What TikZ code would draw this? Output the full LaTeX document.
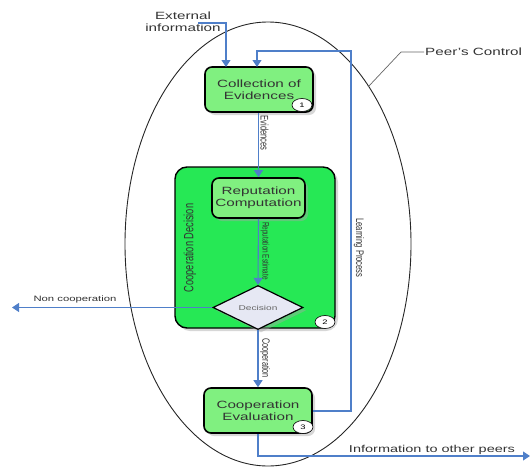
\documentclass[tikz,border=0pt]{standalone}
\usepackage{fontspec}
\setmainfont[FakeStretch=1.45]{Liberation Sans}
\newfontfamily\vertfont[FakeStretch=0.69]{Liberation Sans}
\usetikzlibrary{arrows.meta,shapes.geometric,shadows}
\definecolor{flow}{HTML}{4F7FC9}
\definecolor{lightgreen}{HTML}{80F080}
\definecolor{deepgreen}{HTML}{26E855}
\definecolor{lavender}{HTML}{E6E8F4}
\definecolor{ink}{HTML}{333333}
\tikzset{
  boxshadow/.style={drop shadow={shadow xshift=3pt,shadow yshift=-3pt,fill=black!35,opacity=0.45}},
  procbox/.style={draw=black, line width=1.6pt, rounded corners=7pt, fill=lightgreen,
    minimum width=108pt, minimum height=45pt, align=center, text=ink,
    font=\fontsize{10.5}{12}\selectfont, boxshadow},
  groupbox/.style={draw=black, line width=1.4pt, rounded corners=12pt, fill=deepgreen,
    minimum width=160pt, minimum height=161pt, boxshadow},
  decide/.style={diamond, draw=black, line width=1.2pt, fill=lavender, inner sep=0pt,
    minimum width=90pt, minimum height=35pt, text=black!60,
    font=\fontsize{7}{8}\selectfont, boxshadow},
  badge/.style={ellipse, draw=black, line width=0.6pt, fill=white, inner sep=0pt,
    minimum width=20pt, minimum height=13pt, font=\fontsize{6.5}{7}\selectfont},
  flowline/.style={draw=flow, line width=1.1pt},
  flowarrow/.style={flowline, -{Triangle[width=9pt,length=7pt]}},
  sidelabel/.style={text=ink, inner sep=1pt},
  vlabel/.style={text=ink, rotate=-90, inner sep=0pt},
}
\begin{document}
\begin{tikzpicture}[x=1pt,y=-1pt]
\useasboundingbox (0,0) rectangle (530,466);

% peer boundary
\node[ellipse, draw=black!85, line width=0.9pt, minimum width=286pt, minimum height=444pt, inner sep=0pt] (peer) at (268,244) {};
\node[sidelabel, anchor=west, font=\fontsize{10.5}{12}\selectfont] (peerlbl) at (424,52) {Peer's Control};
\draw[black!60, line width=0.7pt] (peerlbl.west) -- ++(-23,0) -- (368,87);

% processing stages
\node[groupbox] (decgroup) at (255,247.5) {};
\node[text=ink, rotate=90, font=\vertfont\fontsize{13.4}{14}\selectfont] (declbl) at (190,248) {Cooperation Decision};
\node[procbox] (collect) at (259,89.5) {Collection of\\Evidences};
\node[procbox, minimum width=93pt, minimum height=40pt] (repcomp) at (258.5,198) {Reputation\\Computation};
\node[decide] (decision) at (258,307.5) {Decision};
\node[procbox] (evaluate) at (258,410.5) {Cooperation\\Evaluation};

\node[badge] (b1) at (302,105) {1};
\node[badge] (b2) at (325,322) {2};
\node[badge] (b3) at (303,427) {3};

% inputs
\node[sidelabel, align=center, font=\fontsize{10.5}{12}\selectfont] (extinfo) at (183,22) {External\\information};
\coordinate (extstart) at (198,23);
\draw[flowarrow] (extstart) -- (226,23) -- (226,67);

% main flow
\draw[flowarrow] (collect.south -| repcomp.north) -- (repcomp.north);
\node[vlabel, font=\vertfont\fontsize{11}{12}\selectfont] (evlbl) at (264.5,133) {Evidences};
\draw[flowarrow] (repcomp.south) -- (decision.north);
\node[vlabel, font=\vertfont\fontsize{9.3}{10}\selectfont] (estlbl) at (265,251) {Reputation Estimate};
\draw[flowarrow] (decision.south) -- (evaluate.north);
\node[vlabel, font=\vertfont\fontsize{10.6}{11}\selectfont] (cooplbl) at (265,358) {Cooperation};

% non cooperation exit
\coordinate (noexit) at (12,307.5);
\draw[flowarrow] (decision.west) -- (noexit);
\node[sidelabel, font=\fontsize{7.8}{9}\selectfont] (nolbl) at (75,299.5) {Non cooperation};

% learning feedback
\draw[flowarrow] (evaluate.east |- 0,411) -- (351,411) -- (351,51) -- (257,51) -- (257,67);
\node[vlabel, font=\vertfont\fontsize{11}{12}\selectfont] (learnlbl) at (359,248) {Learning Process};

% output to other peers
\coordinate (outexit) at (530,456);
\draw[flowarrow] (evaluate.south) -- (258,456) -- (outexit);
\node[sidelabel, font=\fontsize{10}{11}\selectfont] (outlbl) at (432,450) {Information to other peers};
\end{tikzpicture}
\end{document}
